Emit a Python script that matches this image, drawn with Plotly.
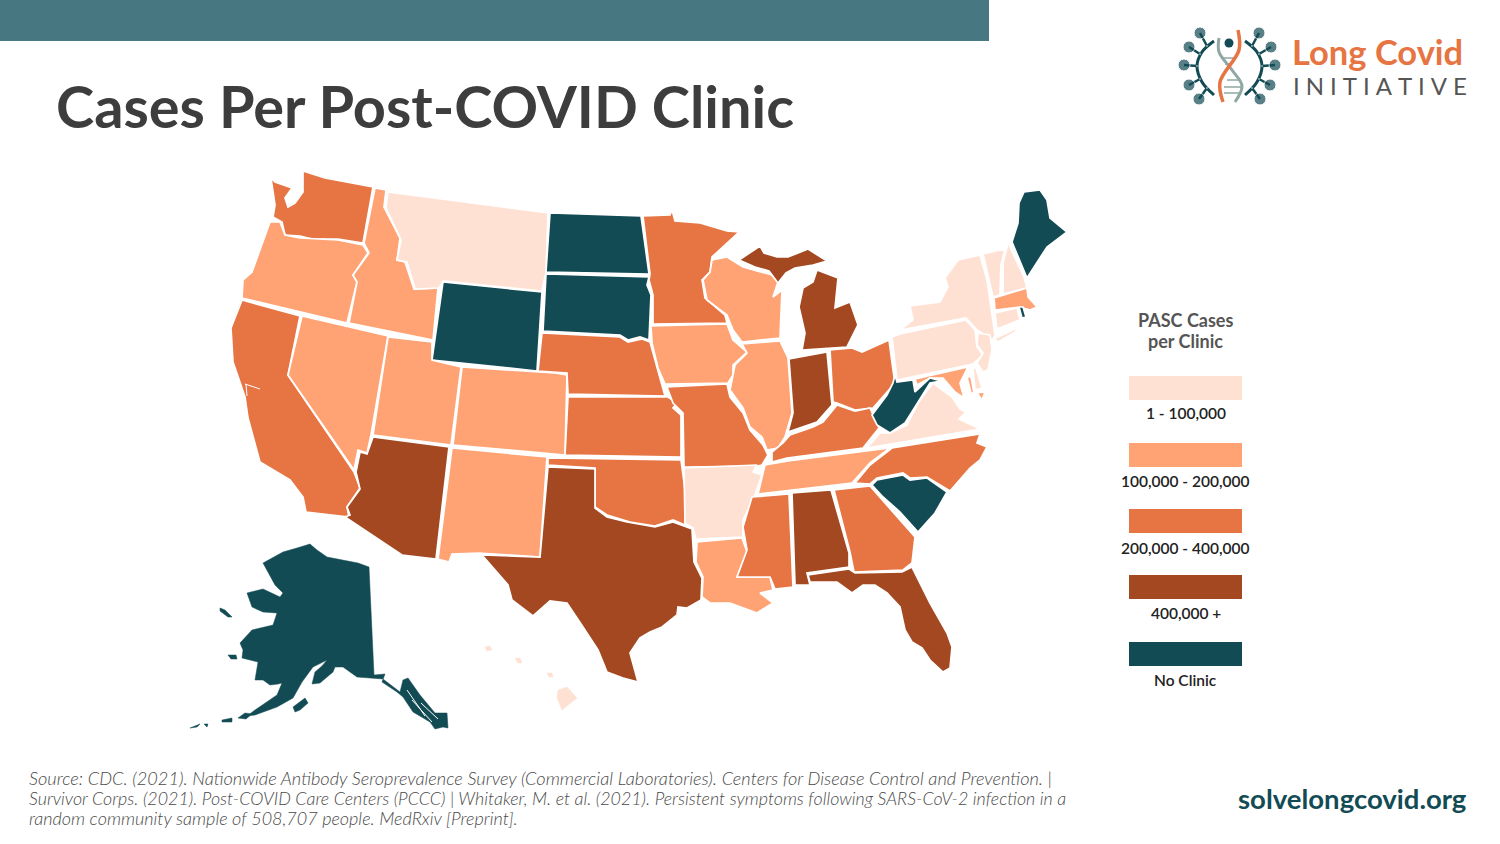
import plotly.graph_objects as go

# the usa topojson is fetched from a cdn and there is no network here,
# so the state outlines are traced off the picture, in page pixels
states = ["WA","OR","CA","NV","ID","MT","WY","UT","CO","AZ","NM","ND","SD","NE","KS","OK","TX","MN","IA","MO","AR","LA","WI","IL","MI","IN","OH","KY","TN","MS","AL","GA","FL","SC","NC","VA","MD","WV","PA","NY","VT","NH","ME","MA","RI","CT","NJ","DE","AK","HI"]
state_bins = [2,1,2,1,1,0,4,1,1,3,1,4,4,2,2,2,3,2,1,2,0,1,1,1,3,3,2,2,1,2,3,2,3,4,2,0,1,4,0,0,0,0,4,1,4,0,0,0,4,0]

legend_labels = ["1 - 100,000","100,000 - 200,000","200,000 - 400,000","400,000 +","No Clinic"]
legend_colors = ["#FFE1D3","#FFA375","#E67543","#A34820","#134B55"]

source_lines = [
    "Source: CDC. (2021). Nationwide Antibody Seroprevalence Survey (Commercial Laboratories). Centers for Disease Control and Prevention. |",
    "Survivor Corps. (2021). Post-COVID Care Centers (PCCC) | Whitaker, M. et al. (2021). Persistent symptoms following SARS-CoV-2 infection in a",
    "random community sample of 508,707 people. MedRxiv [Preprint].",
]
source_sizes = [18.2, 17.85, 18]

outlines = {
    "WA": [[(303,171),(325,178),(373,187),(363,243),(338,239),(312,239),(300,236),(285,235),(282,222),(273,217),(275,205),(271,178),(275,182),(292,188),(285,198),(288,207),(295,203),(303,192)]],
    "OR": [[(270,222),(280,222),(285,235),(300,238),(338,240),(363,245),(368,253),(353,275),(357,282),(347,323),(242,298),(243,280),(252,272),(265,235)]],
    "ID": [[(375,188),(386,190),(384,207),(400,238),(397,260),(405,262),(414,289),(438,288),(433,340),(349,323),(357,282),(353,275),(369,253),(364,243)]],
    "MT": [[(388,192),(548,213),(546,272),(542,291),(443,281),(439,288),(415,289),(407,262),(397,260),(401,240),(386,208)]],
    "WY": [[(443,282),(542,292),(537,371),(432,360)]],
    "NV": [[(302,316),(388,336),(371,435),(367,453),(358,450),(354,470),(288,375)]],
    "CA": [[(242,300),(300,316),(288,375),(354,472),(360,488),(347,507),(349,517),(306,512),(303,497),(290,480),(260,462),(248,418),(245,397),(233,362),(231,328)]],
    "UT": [[(388,337),(432,342),(432,360),(461,367),(451,445),(373,435)]],
    "CO": [[(462,367),(555,373),(567,375),(565,455),(453,445)]],
    "AZ": [[(373,437),(449,447),(436,559),(402,555),(345,517),(350,515),(347,507),(360,489),(356,472),(360,452),(367,454)]],
    "NM": [[(452,448),(547,457),(540,557),(479,553),(452,554),(449,562),(438,559)]],
    "ND": [[(550,213),(641,216),(649,274),(546,272)]],
    "SD": [[(546,274),(649,277),(647,285),(651,295),(649,340),(640,337),(628,340),(620,335),(543,331)]],
    "NE": [[(542,333),(620,337),(628,342),(642,339),(650,342),(665,396),(568,394),(567,373),(538,371)]],
    "KS": [[(568,397),(668,397),(677,403),(673,408),(681,415),(681,457),(565,455)]],
    "OK": [[(548,458),(681,460),(685,490),(685,525),(673,520),(655,526),(630,522),(607,515),(595,507),(595,468),(548,465)]],
    "TX": [[(548,467),(595,469),(595,508),(607,517),(627,522),(642,525),(655,527),(673,522),(692,529),(694,562),(702,578),(701,600),(687,608),(678,607),(677,615),(662,627),(650,632),(640,638),(630,653),(638,682),(623,678),(607,672),(598,650),(583,627),(567,603),(550,601),(533,616),(512,600),(508,585),(482,555),(540,557)]],
    "MN": [[(643,216),(670,215),(672,210),(675,221),(700,223),(727,231),(739,232),(712,257),(710,272),(702,280),(705,298),(725,315),(727,323),(653,324),(653,295),(649,280),(650,274)]],
    "IA": [[(651,326),(727,324),(733,340),(747,352),(733,365),(733,375),(728,383),(665,384),(658,368),(652,343)]],
    "MO": [[(667,387),(727,384),(730,397),(743,413),(750,430),(763,445),(768,455),(762,465),(757,466),(684,467),(683,413),(673,403)]],
    "AR": [[(684,468),(757,465),(753,472),(762,475),(753,500),(743,520),(743,537),(696,539),(693,528),(685,523)]],
    "LA": [[(697,542),(742,538),(747,552),(737,577),(770,577),(773,590),(760,593),(773,603),(757,613),(730,603),(710,603),(702,597),(703,577),(696,562)]],
    "WI": [[(712,260),(727,257),(743,267),(772,275),(778,282),(773,297),(782,290),(780,338),(742,342),(733,330),(727,315),(707,300),(703,280),(710,272)]],
    "IL": [[(742,344),(780,341),(788,358),(792,413),(785,437),(778,448),(767,450),(762,437),(750,427),(743,408),(730,390),(733,373),(735,365),(747,353)]],
    "MI": [[(817,270),(838,278),(835,308),(850,302),(858,325),(847,347),(802,350),(805,333),(799,307),(803,288),(813,282)],
           [(739,260),(760,246),(764,253),(777,257),(788,257),(808,249),(827,261),(813,265),(795,268),(786,273),(778,283),(769,271),(755,267)]],
    "IN": [[(789,359),(827,352),(832,405),(817,422),(788,432),(793,413)]],
    "OH": [[(830,350),(852,348),(862,352),(889,340),(893,370),(895,383),(873,408),(855,410),(837,403),(833,402)]],
    "KY": [[(837,405),(855,411),(870,408),(879,428),(863,448),(787,458),(772,462),(772,452),(783,443),(790,435),(813,427),(823,422)]],
    "TN": [[(765,465),(788,461),(890,448),(870,463),(852,483),(758,494)]],
    "MS": [[(752,497),(789,494),(793,587),(775,589),(770,577),(737,577),(747,550),(743,527)]],
    "AL": [[(792,493),(831,490),(849,553),(849,567),(807,573),(810,585),(795,585)]],
    "GA": [[(834,490),(870,486),(915,537),(912,563),(903,570),(854,572),(850,552)]],
    "FL": [[(808,575),(849,569),(855,573),(902,572),(912,567),(930,603),(947,633),(952,647),(950,668),(943,672),(930,660),(922,648),(912,642),(905,630),(900,607),(887,593),(875,585),(863,585),(852,593),(837,582),(810,582)]],
    "SC": [[(872,485),(877,480),(903,475),(910,480),(927,478),(947,492),(935,513),(918,532),(900,512),(883,497)]],
    "NC": [[(855,483),(870,465),(892,448),(980,434),(977,443),(987,447),(980,460),(970,468),(950,491),(927,477),(910,478),(903,473),(877,478),(870,484)]],
    "VA": [[(867,448),(880,433),(890,433),(907,425),(918,403),(933,383),(952,397),(960,409),(966,412),(959,419),(980,429)]],
    "MD": [[(915,379),(968,367),(960,383),(964,398),(955,392),(943,378),(930,378),(917,385)],
           [(967,377),(971,377),(974,393),(971,393)],
           [(977,393),(985,392),(982,400)]],
    "WV": [[(895,375),(897,382),(913,380),(915,392),(930,378),(941,381),(930,383),(918,402),(905,423),(890,433),(877,425),(872,415),(887,395),(893,383)]],
    "PA": [[(892,337),(900,334),(966,320),(975,330),(977,347),(983,355),(973,364),(897,380)]],
    "NY": [[(900,330),(913,320),(910,306),(940,302),(948,287),(945,278),(958,260),(980,255),(987,280),(992,312),(995,335),(993,340),(977,330),(966,318)],
           [(994,339),(1015,329),(1017,331),(998,342)]],
    "VT": [[(983,254),(1005,249),(1001,265),(1000,295),(993,297),(988,277)]],
    "NH": [[(1008,243),(1024,277),(1027,288),(1003,294),(1003,263)]],
    "ME": [[(1024,192),(1040,190),(1047,200),(1050,218),(1067,232),(1047,247),(1027,278),(1012,242),(1018,223),(1019,203)]],
    "MA": [[(994,298),(1027,288),(1028,297),(1037,307),(1030,310),(1020,307),(995,310)]],
    "RI": [[(1019,307),(1023,307),(1026,317),(1022,318)]],
    "CT": [[(995,313),(1017,308),(1020,320),(997,329)]],
    "NJ": [[(978,333),(990,335),(992,350),(988,370),(983,372),(977,363),(983,353),(977,345)]],
    "DE": [[(973,368),(976,368),(982,388),(975,390)]],
    "AK": [[(310,544),(317,550),(327,557),(358,563),(369,567),(374,675),(385,674),(382,682),(397,692),(403,697),(413,712),(430,722),(435,729),(443,727),(448,728),(447,713),(435,713),(420,695),(408,678),(403,680),(400,692),(383,679),(357,677),(343,667),(335,667),(333,672),(320,683),(312,684),(315,672),(322,666),(327,660),(313,667),(302,682),(293,698),(277,707),(255,715),(247,716),(255,710),(277,695),(282,683),(278,684),(270,685),(263,680),(255,680),(258,662),(242,658),(243,650),(240,643),(252,630),(273,625),(277,613),(263,612),(252,607),(247,593),(263,589),(280,597),(283,593),(275,585),(263,563),(283,552),(297,548)],
           [(238,718),(245,713),(252,714),(246,719)],
           [(222,720),(232,718),(232,722),(222,722)],
           [(204,724),(208,724),(207,727)],
           [(190,728),(200,724),(197,727)],
           [(293,707),(305,698),(308,703),(300,710),(295,712)],
           [(220,608),(225,610),(232,617),(228,617),(220,611)],
           [(228,655),(236,655),(237,659),(231,659)]],
    "HI": [[(485,647),(490,646),(492,650),(487,651)],
           [(515,658),(520,658),(522,663),(518,663)],
           [(547,673),(552,673),(553,677),(549,677)],
           [(558,690),(567,687),(577,698),(562,710),(557,698)]],
}

# bays and the gaps between the panhandle islands
water_slits = [[(245,384),(260,389)],[(246,384),(247,396)],
               [(407,690),(425,716)],[(412,700),(432,722)],[(421,703),(438,719)]]

fig = go.Figure()

for s, b in zip(states, state_bins):
    xs, ys = [], []
    for part in outlines[s]:
        xs += [p[0] for p in part] + [part[0][0], None]
        ys += [p[1] for p in part] + [part[0][1], None]
    # the small islands would vanish under a white border
    no_border = s in ("AK", "HI")
    fig.add_trace(go.Scatter(x=xs, y=ys, mode="lines", fill="toself", fillcolor=legend_colors[b],
                             line=dict(color=legend_colors[b] if no_border else "white", width=0.5 if no_border else 1.7),
                             name=s, text=legend_labels[b], hoverinfo="name+text"))

for seg in water_slits:
    fig.add_trace(go.Scatter(x=[p[0] for p in seg], y=[p[1] for p in seg], mode="lines",
                             line=dict(color="white", width=1), hoverinfo="skip"))

# logo
teal = "#134B55"
left_arc = [(1214,41),(1202,52),(1197,66),(1202,82),(1214,95)]
right_arc = [(1245,41),(1257,52),(1262,66),(1257,82),(1245,95)]
for arc in (left_arc, right_arc):
    fig.add_trace(go.Scatter(x=[p[0] for p in arc], y=[p[1] for p in arc], mode="lines",
                             line=dict(color=teal, width=3, shape="spline"), hoverinfo="skip"))
spikes = [((1200,33),(1207,46)),((1189,47),(1200,54)),((1184,65),(1197,66)),((1189,85),(1200,79)),((1199,99),(1207,88)),
          ((1259,33),(1252,46)),((1271,47),(1259,54)),((1275,65),(1262,66)),((1270,85),(1259,79)),((1260,99),(1252,88))]
for dot, foot in spikes:
    fig.add_trace(go.Scatter(x=[dot[0],foot[0]], y=[dot[1],foot[1]], mode="lines+markers",
                             line=dict(color=teal, width=2.5),
                             marker=dict(color=teal, size=[12,1]), hoverinfo="skip"))
rungs = [(1221,58,1233,58),(1225,64,1230,64),(1227,80,1241,80),(1224,87,1242,87),(1224,93,1240,93)]
for r in rungs:
    fig.add_trace(go.Scatter(x=[r[0],r[2]], y=[r[1],r[3]], mode="lines", line=dict(color="#8FA8A3", width=1.5), hoverinfo="skip"))
gray_strand = [(1219,38),(1219,52),(1232,70),(1242,86),(1235,102)]
orange_strand = [(1238,30),(1239,50),(1220,82),(1223,102)]
fig.add_trace(go.Scatter(x=[p[0] for p in gray_strand], y=[p[1] for p in gray_strand], mode="lines",
                         line=dict(color="#8FA8A3", width=3, shape="spline"), hoverinfo="skip"))
fig.add_trace(go.Scatter(x=[p[0] for p in orange_strand], y=[p[1] for p in orange_strand], mode="lines",
                         line=dict(color="#E67543", width=3.5, shape="spline"), hoverinfo="skip"))
fig.add_trace(go.Scatter(x=[1229], y=[43], mode="markers", marker=dict(color=teal, size=9), hoverinfo="skip"))

shapes = [dict(type="rect", xref="x", yref="y", x0=0, x1=989, y0=0, y1=41, fillcolor="#477780", line_width=0, layer="below")]
annotations = []

def label(x, y, text, size, color, family="Lato", anchor="center", weight=None, style=None):
    font = dict(family=family, size=size, color=color)
    if weight:
        font["weight"] = weight
    if style:
        font["style"] = style
    annotations.append(dict(x=x, y=y, xref="x", yref="y", text=text, showarrow=False, xanchor=anchor, yanchor="middle", font=font, borderpad=0))

swatch_top = [376, 443, 509, 575, 642]
label_y = [413, 481, 548, 613, 680]
for top, ly, lab, col in zip(swatch_top, label_y, legend_labels, legend_colors):
    shapes.append(dict(type="rect", xref="x", yref="y", x0=1129, x1=1242, y0=top, y1=top+24, fillcolor=col, line_width=0))
    label(1185.5, ly, lab, 15.5, "#222222", family="Lato", weight=600)

label(1185, 320, "PASC Cases", 18, "#555555", weight=700)
label(1185, 341, "per Clinic", 18, "#555555", weight=700)
label(55, 105.5, "Cases Per Post-COVID Clinic", 57.7, "#3D3D3D", anchor="left", weight=700)
for y, line, size in zip([778, 798, 818], source_lines, source_sizes):
    label(28, y, line, size, "#4A4A4A", anchor="left", style="italic", weight=300)
label(1468, 798.5, "solvelongcovid.org", 27.5, "#134B55", anchor="right", weight=700)
label(1291, 51, "Long Covid", 34.5, "#E67543", anchor="left", weight=700)
label(1292, 85, "I\u2005N\u2005I\u2005T\u2005I\u2005A\u2005T\u2005I\u2005V\u2005E", 24, "#555555", anchor="left", weight=400)

fig.update_layout(
    width=1500, height=844,
    margin=dict(l=0, r=0, t=0, b=0),
    paper_bgcolor="white", plot_bgcolor="white",
    showlegend=False,
    xaxis=dict(range=[0,1500], visible=False, fixedrange=True),
    yaxis=dict(range=[844,0], visible=False, fixedrange=True),
    shapes=shapes, annotations=annotations,
)
fig.write_html("out.html", config={"displayModeBar": False}, post_script="document.body.style.margin='0';")
